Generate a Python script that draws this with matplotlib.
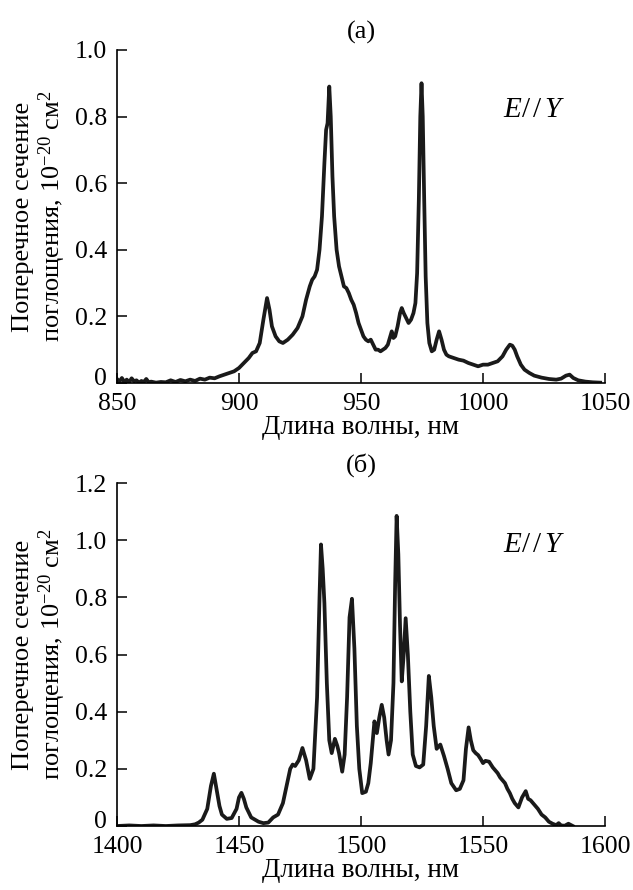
import matplotlib
matplotlib.use("Agg")
import matplotlib.pyplot as plt
from matplotlib.transforms import ScaledTranslation

plt.rcParams['font.family'] = ['Liberation Serif', 'DejaVu Serif']
plt.rcParams['mathtext.fontset'] = 'custom'
plt.rcParams['mathtext.rm'] = 'Liberation Serif'
plt.rcParams['mathtext.it'] = 'Liberation Serif:italic'

# (а) 850-1050 nm
wl_a = [850, 851, 852, 853, 854, 855, 856, 857, 858, 859, 860, 861, 862, 863, 864,
        866, 868, 870, 872, 874, 876, 878, 880, 882, 884, 886, 888, 890, 892, 894,
        896, 898, 900, 902, 904, 905.5, 907, 908.5, 910, 911.5, 912.5, 913.5, 915,
        916.5, 918, 920, 922, 924, 926, 927.5, 929, 930, 931, 932, 933, 934, 935,
        935.7, 936.3, 937, 937.6, 938.3, 939, 940, 941, 942, 943, 944, 945, 946,
        947, 948, 949, 950, 951, 952, 953, 954, 955, 956, 957, 958, 959, 960, 961,
        962, 962.6, 963.3, 964, 965, 966, 966.7, 967.5, 968.5, 969.5, 970.5, 971.5,
        972.3, 973, 973.7, 974.3, 974.8, 975.3, 975.9, 976.5, 977.2, 978, 979, 980,
        981, 982, 983, 984, 985, 986, 988, 990, 992, 994, 996, 998, 1000, 1002,
        1004, 1006, 1008, 1009.5, 1011, 1012, 1013, 1014, 1015.5, 1017, 1019, 1021,
        1024, 1027, 1030, 1032, 1034, 1035.5, 1037, 1039, 1042, 1045, 1048]
sig_a = [0.012, 0.004, 0.015, 0.003, 0.010, 0.002, 0.014, 0.005, 0.008, 0.001, 0.006,
         0.003, 0.012, 0.002, 0.004, 0.001, 0.003, 0.002, 0.008, 0.003, 0.009, 0.005,
         0.010, 0.006, 0.013, 0.010, 0.016, 0.014, 0.020, 0.025, 0.030, 0.035, 0.045,
         0.060, 0.075, 0.090, 0.095, 0.120, 0.190, 0.255, 0.220, 0.170, 0.140, 0.125,
         0.120, 0.130, 0.145, 0.165, 0.200, 0.250, 0.290, 0.310, 0.320, 0.340, 0.400,
         0.500, 0.660, 0.760, 0.780, 0.890, 0.800, 0.620, 0.500, 0.400, 0.350, 0.320,
         0.290, 0.285, 0.270, 0.250, 0.235, 0.210, 0.180, 0.160, 0.140, 0.130, 0.125,
         0.130, 0.115, 0.100, 0.100, 0.095, 0.100, 0.105, 0.115, 0.140, 0.155, 0.135,
         0.140, 0.170, 0.210, 0.225, 0.210, 0.195, 0.180, 0.190, 0.210, 0.240, 0.330,
         0.550, 0.800, 0.900, 0.800, 0.550, 0.320, 0.180, 0.120, 0.095, 0.100, 0.130,
         0.155, 0.130, 0.100, 0.085, 0.080, 0.075, 0.070, 0.067, 0.060, 0.055, 0.050,
         0.055, 0.055, 0.060, 0.065, 0.080, 0.100, 0.115, 0.112, 0.100, 0.080, 0.055,
         0.040, 0.030, 0.022, 0.016, 0.012, 0.010, 0.013, 0.022, 0.025, 0.015, 0.008,
         0.004, 0.002, 0.001]

# (б) 1400-1600 nm
wl_b = [1400, 1405, 1410, 1415, 1420, 1425, 1430, 1432, 1433.5, 1435, 1437, 1438.5,
        1439.7, 1441, 1442, 1443, 1445, 1447, 1449, 1450, 1451, 1452, 1453, 1455,
        1458, 1460, 1462, 1464, 1466, 1468, 1470, 1471, 1472, 1473, 1474.5, 1476,
        1477.5, 1479, 1480.5, 1482, 1483, 1483.6, 1484.3, 1485, 1486, 1487, 1488,
        1489.3, 1490.3, 1491, 1492.3, 1493.3, 1494.3, 1495.3, 1496.3, 1497.3, 1498.3,
        1499.3, 1500.5, 1502, 1503, 1504, 1505.5, 1506.5, 1507.5, 1508.5, 1509.5,
        1510.5, 1511.3, 1512.3, 1513.3, 1514, 1514.6, 1515.3, 1516, 1516.7, 1517.5,
        1518.3, 1519.2, 1520.2, 1521.2, 1522.5, 1524, 1525.5, 1526.7, 1527.8, 1528.8,
        1529.8, 1531, 1532.5, 1534, 1535.5, 1537, 1539, 1540.5, 1542, 1543, 1544.1,
        1545, 1546, 1547, 1548, 1549, 1550, 1551, 1552.5, 1554, 1555, 1556, 1557,
        1558, 1559, 1560, 1561, 1562, 1563, 1564.5, 1566, 1567.5, 1568.5, 1569.5,
        1571, 1572.5, 1574, 1575.5, 1577, 1578.5, 1580, 1581, 1582, 1583.5, 1585,
        1586.8]
sig_b = [0.0, 0.002, 0.0, 0.002, 0.0, 0.002, 0.003, 0.006, 0.012, 0.022, 0.060, 0.140,
         0.183, 0.120, 0.070, 0.040, 0.025, 0.028, 0.060, 0.100, 0.116, 0.095, 0.065, 0.030,
         0.015, 0.010, 0.012, 0.030, 0.040, 0.080, 0.160, 0.200, 0.215, 0.210, 0.230, 0.273,
         0.230, 0.165, 0.200, 0.450, 0.800, 0.985, 0.900, 0.780, 0.500, 0.300, 0.255,
         0.305, 0.280, 0.255, 0.190, 0.250, 0.450, 0.730, 0.795, 0.620, 0.350,
         0.200, 0.115, 0.120, 0.150, 0.220, 0.366, 0.325, 0.380, 0.424, 0.380,
         0.300, 0.250, 0.300, 0.500, 0.850, 1.085, 0.950, 0.700, 0.506, 0.600,
         0.727, 0.600, 0.400, 0.250, 0.210, 0.205, 0.215, 0.350, 0.525, 0.450,
         0.350, 0.270, 0.285, 0.245, 0.200, 0.150, 0.125, 0.130, 0.160, 0.270, 0.345,
         0.300, 0.265, 0.255, 0.248, 0.235, 0.220, 0.228, 0.225, 0.205, 0.195, 0.185, 0.170,
         0.160, 0.150, 0.130, 0.115, 0.095, 0.080, 0.065, 0.100, 0.122, 0.095, 0.090,
         0.075, 0.060, 0.040, 0.030, 0.015, 0.008, 0.003, 0.010, 0.002, 0.001, 0.008,
         0.0]

panels = [
    dict(x=wl_a, y=sig_a, xlim=(850, 1050), xticks=[850, 900, 950, 1000, 1050],
         ylim=(0, 1.0), yticks=[0, 0.2, 0.4, 0.6, 0.8, 1.0], title='(а)',
         rect=[0.1848, 0.5697, 0.771, 0.3742]),
    dict(x=wl_b, y=sig_b, xlim=(1400, 1600), xticks=[1400, 1450, 1500, 1550, 1600],
         ylim=(0, 1.2), yticks=[0, 0.2, 0.4, 0.6, 0.8, 1.0, 1.2], title='(б)',
         rect=[0.1848, 0.0719, 0.771, 0.3854]),
]

fig = plt.figure(figsize=(6.33, 8.9), dpi=100)

for p in panels:
    ax = fig.add_axes(p['rect'])
    ax.plot(p['x'], p['y'], color='#1a1a1a', linewidth=2.7, solid_joinstyle='round')
    ax.set_xlim(p['xlim'])
    ax.set_ylim(p['ylim'])
    ax.set_xticks(p['xticks'])
    ax.set_yticks(p['yticks'])
    ax.set_yticklabels(['0'] + [f'{v:.1f}' for v in p['yticks'][1:]])
    ax.spines['top'].set_visible(False)
    ax.spines['right'].set_visible(False)
    for s in ('left', 'bottom'):
        ax.spines[s].set_linewidth(1.2)
    ax.tick_params(direction='in', length=7, width=1.1, labelsize=18.5)
    ax.tick_params(axis='y', pad=7)
    ax.tick_params(axis='x', pad=7)
    # lift the "0" label a little so it clears the first x label
    zero = ax.get_yticklabels()[0]
    zero.set_transform(zero.get_transform() + ScaledTranslation(0, 5 / 72, fig.dpi_scale_trans))
    ax.set_xlabel('Длина волны, нм', fontsize=19.5, labelpad=0)
    ax.set_title(p['title'], fontsize=19, pad=8)
    ax.text(-0.158, 0.5, 'Поперечное сечение\nпоглощения, 10$^{-20}$ см$^2$',
            transform=ax.transAxes, rotation=90, ha='center', va='center',
            fontsize=19, linespacing=1.1, multialignment='center')
    ax.text(0.79, 0.82, r'$E/\,/\,Y$', transform=ax.transAxes, ha='left', va='center',
            fontsize=21)

fig.savefig('out.png', dpi=100)
